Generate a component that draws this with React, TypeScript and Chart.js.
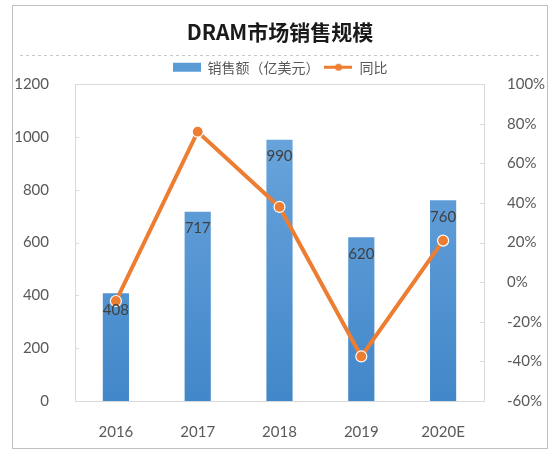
import React, { useEffect, useRef } from "react";
import { Chart, registerables } from "chart.js";

Chart.register(...registerables);

const categories = ["2016", "2017", "2018", "2019", "2020E"];
const salesValues = [408, 717, 990, 620, 760];
const growthValues = [-9.5, 76, 38, -37.5, 21];
const titleText = "DRAM市场销售规模";
const salesLabel = "销售额（亿美元）";
const growthLabel = "同比";

const NUM_FONT = "Lato, 'Noto Sans CJK SC', sans-serif";
const CJK_FONT = "'Noto Sans CJK SC', Lato, sans-serif";

function makeLegendIcon(kind: "bar" | "line"): HTMLCanvasElement {
  const c = document.createElement("canvas");
  c.width = 28;
  c.height = 11;
  const ctx = c.getContext("2d")!;
  if (kind === "bar") {
    ctx.fillStyle = "#5B9BD5";
    ctx.fillRect(0, 1, 28, 9);
  } else {
    ctx.strokeStyle = "#ED7D31";
    ctx.lineWidth = 3;
    ctx.beginPath();
    ctx.moveTo(0, 5.5);
    ctx.lineTo(28, 5.5);
    ctx.stroke();
    ctx.fillStyle = "#ED7D31";
    ctx.beginPath();
    ctx.arc(14, 5.5, 3.5, 0, Math.PI * 2);
    ctx.fill();
  }
  return c;
}

export default function App() {
  const ref = useRef<HTMLCanvasElement | null>(null);

  useEffect(() => {
    document.body.style.margin = "0";
    const canvas = ref.current!;
    const barIcon = makeLegendIcon("bar");
    const lineIcon = makeLegendIcon("line");

    const framePlugin = {
      id: "frame",
      beforeDraw(chart: any) {
        const ctx = chart.ctx;
        ctx.save();
        ctx.fillStyle = "#ffffff";
        ctx.fillRect(0, 0, chart.width, chart.height);
        ctx.strokeStyle = "#BFBFBF";
        ctx.lineWidth = 1;
        ctx.strokeRect(12.5, 5.5, 535, 443);
        ctx.setLineDash([3, 3]);
        ctx.strokeStyle = "#C8C8C8";
        ctx.beginPath();
        ctx.moveTo(20, 55.5);
        ctx.lineTo(540, 55.5);
        ctx.stroke();
        ctx.setLineDash([]);
        const a = chart.chartArea;
        ctx.strokeStyle = "#D9D9D9";
        ctx.strokeRect(Math.round(a.left) + 0.5, Math.round(a.top) + 0.5, Math.round(a.right - a.left), Math.round(a.bottom - a.top));
        const y = chart.scales.y;
        y.ticks.forEach((t: any) => {
          const py = Math.round(y.getPixelForValue(t.value)) + 0.5;
          ctx.beginPath();
          ctx.moveTo(a.left, py);
          ctx.lineTo(a.left + 4, py);
          ctx.stroke();
        });
        const y1 = chart.scales.y1;
        y1.ticks.forEach((t: any) => {
          const py = Math.round(y1.getPixelForValue(t.value)) + 0.5;
          ctx.beginPath();
          ctx.moveTo(a.right, py);
          ctx.lineTo(a.right - 4, py);
          ctx.stroke();
        });
        ctx.restore();
      },
    };

    const labelPlugin = {
      id: "barLabels",
      afterDatasetsDraw(chart: any) {
        const ctx = chart.ctx;
        const meta = chart.getDatasetMeta(0);
        ctx.save();
        ctx.font = `15px ${NUM_FONT}`;
        ctx.fillStyle = "#404040";
        ctx.textAlign = "center";
        ctx.textBaseline = "top";
        meta.data.forEach((el: any, i: number) => {
          ctx.fillText(String(salesValues[i]), el.x, el.y + 9);
        });
        ctx.restore();
      },
    };

    const chart = new Chart(canvas, {
      type: "bar",
      data: {
        labels: categories,
        datasets: [
          {
            type: "bar",
            label: salesLabel,
            data: salesValues,
            yAxisID: "y",
            order: 2,
            categoryPercentage: 1,
            barPercentage: 0.32,
            backgroundColor: (c: any) => {
              const area = c.chart.chartArea;
              if (!area) return "#5B9BD5";
              const g = c.chart.ctx.createLinearGradient(0, area.top, 0, area.bottom);
              g.addColorStop(0, "#70A9DF");
              g.addColorStop(1, "#4287C9");
              return g;
            },
          },
          {
            type: "line",
            label: growthLabel,
            data: growthValues,
            yAxisID: "y1",
            order: 1,
            borderColor: "#ED7D31",
            backgroundColor: "#ED7D31",
            borderWidth: 4,
            pointRadius: 5.5,
            pointBackgroundColor: "#ED7D31",
            pointBorderColor: "#ffffff",
            pointBorderWidth: 1.2,
            tension: 0,
          },
        ],
      },
      options: {
        animation: false,
        responsive: false,
        layout: { padding: { top: 0, bottom: 0, left: 0, right: 0 } },
        plugins: {
          tooltip: { enabled: false },
          title: {
            display: true,
            text: titleText,
            color: "#1a1a1a",
            font: { family: CJK_FONT, size: 21, weight: "bold" },
            padding: { top: 19, bottom: 11 },
          },
          legend: {
            display: true,
            labels: {
              usePointStyle: true,
              pointStyleWidth: 28,
              color: "#595959",
              font: { family: CJK_FONT, size: 14 },
              padding: 5,
              generateLabels: () => [
                { text: salesLabel, pointStyle: barIcon, fillStyle: "#5B9BD5", strokeStyle: "#5B9BD5", lineWidth: 0, datasetIndex: 0, fontColor: "#595959" },
                { text: growthLabel, pointStyle: lineIcon, fillStyle: "#ED7D31", strokeStyle: "#ED7D31", lineWidth: 0, datasetIndex: 1, fontColor: "#595959" },
              ] as any,
            },
          },
        },
        scales: {
          x: {
            grid: { display: false },
            border: { display: false },
            ticks: { color: "#595959", font: { family: NUM_FONT, size: 15 }, padding: 14 },
            afterFit: (s: any) => { s.height = 54; },
          },
          y: {
            position: "left",
            min: 0,
            max: 1200,
            grid: { display: false },
            border: { display: false },
            ticks: {
              stepSize: 200,
              color: "#595959",
              font: { family: NUM_FONT, size: 15 },
              padding: 18,
              callback: (v: any) => String(v),
            },
            afterFit: (s: any) => { s.width = 75; },
          },
          y1: {
            position: "right",
            min: -60,
            max: 100,
            grid: { display: false },
            border: { display: false },
            ticks: {
              stepSize: 20,
              color: "#595959",
              font: { family: NUM_FONT, size: 15 },
              padding: 15,
              callback: (v: any) => `${v}%`,
            },
            afterFit: (s: any) => { s.width = 76; },
          },
        },
      },
      plugins: [framePlugin, labelPlugin],
    } as any);

    return () => chart.destroy();
  }, []);

  return <canvas ref={ref} width={560} height={455} style={{ display: "block" }} />;
}
